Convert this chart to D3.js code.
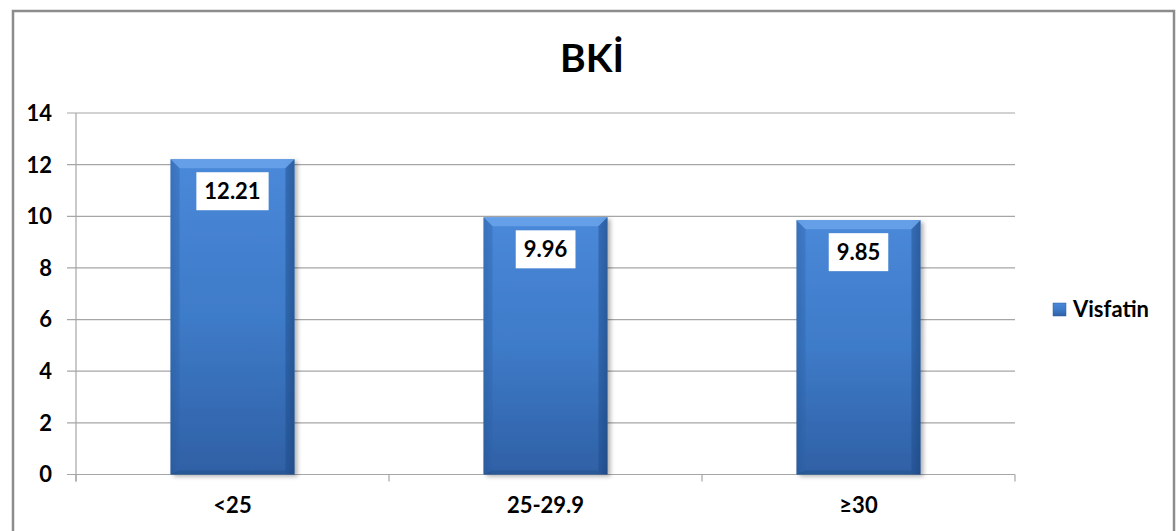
<!DOCTYPE html>
<html><head><meta charset="utf-8">
<script src="https://cdn.jsdelivr.net/npm/d3@7"></script>
<style>
body{margin:0;background:#fff;}
svg{display:block;}
</style></head>
<body>
<svg id="c" width="1176" height="531"></svg>
<script>
const categories = ["<25", "25-29.9", "≥30"];
const values = [12.21, 9.96, 9.85];
const valueLabels = ["12.21", "9.96", "9.85"];
const yTicks = [0, 2, 4, 6, 8, 10, 12, 14];
const seriesName = "Visfatin";
const title = "BKİ";

const svg = d3.select("#c");
const plot = {left: 76, right: 1015, top: 113, bottom: 474.5};
const font = "Lato, 'Open Sans', sans-serif";

// outer border
svg.append("rect").attr("x", 13).attr("y", 11).attr("width", 1161).attr("height", 530)
  .attr("fill", "#fff").attr("stroke", "#8c8c8c").attr("stroke-width", 2.5);

const defs = svg.append("defs");
const g1 = defs.append("linearGradient").attr("id", "barGrad").attr("x1", 0).attr("y1", 0).attr("x2", 0).attr("y2", 1);
g1.append("stop").attr("offset", "0%").attr("stop-color", "#4a88d9");
g1.append("stop").attr("offset", "50%").attr("stop-color", "#3e7bc8");
g1.append("stop").attr("offset", "100%").attr("stop-color", "#2f60a5");
const g2 = defs.append("linearGradient").attr("id", "sideGrad").attr("x1", 0).attr("y1", 0).attr("x2", 1).attr("y2", 0);
g2.append("stop").attr("offset", "0%").attr("stop-color", "#000").attr("stop-opacity", 0.12);
g2.append("stop").attr("offset", "8%").attr("stop-color", "#000").attr("stop-opacity", 0);
g2.append("stop").attr("offset", "92%").attr("stop-color", "#000").attr("stop-opacity", 0);
g2.append("stop").attr("offset", "100%").attr("stop-color", "#000").attr("stop-opacity", 0.22);
const f = defs.append("filter").attr("id", "shadow").attr("x", "-10%").attr("y", "-10%").attr("width", "130%").attr("height", "130%");
f.append("feDropShadow").attr("dx", 3).attr("dy", 2).attr("stdDeviation", 2).attr("flood-color", "#000").attr("flood-opacity", 0.3);

const x = d3.scaleBand().domain(categories).range([plot.left, plot.right])
  .paddingInner(0.604).paddingOuter(0.302);
const y = d3.scaleLinear().domain([0, 14]).range([plot.bottom, plot.top]);

// gridlines
svg.append("g").selectAll("line").data(yTicks).join("line")
  .attr("x1", plot.left - 9).attr("x2", plot.right)
  .attr("y1", d => y(d)).attr("y2", d => y(d))
  .attr("stroke", "#a6a6a6").attr("stroke-width", 1.2);

// y axis line
svg.append("line").attr("x1", plot.left).attr("x2", plot.left)
  .attr("y1", plot.top).attr("y2", plot.bottom + 7)
  .attr("stroke", "#a6a6a6").attr("stroke-width", 1.2);

// x tick marks at category boundaries
const bounds = [plot.left, ...categories.map(c => x(c) - x.step() * x.paddingInner() / 2 + x.step())];
svg.append("g").selectAll("line").data(bounds).join("line")
  .attr("x1", d => d).attr("x2", d => d)
  .attr("y1", plot.bottom).attr("y2", plot.bottom + 7)
  .attr("stroke", "#a6a6a6").attr("stroke-width", 1.2);

// y labels
svg.append("g").selectAll("text").data(yTicks).join("text")
  .attr("x", 52).attr("y", d => y(d)).attr("dy", "0.36em")
  .attr("text-anchor", "end").attr("font-family", font).attr("font-weight", "bold")
  .attr("font-size", 22).attr("fill", "#000").text(d => d);

// x labels
svg.append("g").selectAll("text").data(categories).join("text")
  .attr("x", d => x(d) + x.bandwidth() / 2).attr("y", 513)
  .attr("text-anchor", "middle").attr("font-family", font).attr("font-weight", "bold")
  .attr("font-size", 22).attr("fill", "#000").text(d => d);

// bars
const bars = svg.append("g").selectAll("g").data(categories).join("g");
bars.append("rect")
  .attr("x", d => x(d)).attr("y", (d, i) => y(values[i]))
  .attr("width", x.bandwidth()).attr("height", (d, i) => y(0) - y(values[i]))
  .attr("fill", "url(#barGrad)").attr("filter", "url(#shadow)");
bars.append("rect")
  .attr("x", d => x(d)).attr("y", (d, i) => y(values[i]))
  .attr("width", x.bandwidth()).attr("height", (d, i) => y(0) - y(values[i]))
  .attr("fill", "url(#sideGrad)");
const bev = 9;
bars.append("polygon").attr("points", (d, i) => {
  const x0 = x(d), x1 = x(d) + x.bandwidth(), t = y(values[i]);
  return `${x0},${t} ${x1},${t} ${x1 - bev},${t + bev} ${x0 + bev},${t + bev}`;
}).attr("fill", "#6aa3ea").attr("opacity", 0.85);
bars.append("polygon").attr("points", (d, i) => {
  const x0 = x(d), t = y(values[i]), b = y(0);
  return `${x0},${t} ${x0 + bev},${t + bev} ${x0 + bev},${b - 4} ${x0},${b}`;
}).attr("fill", "#2f66b3").attr("opacity", 0.35);
bars.append("polygon").attr("points", (d, i) => {
  const x1 = x(d) + x.bandwidth(), t = y(values[i]), b = y(0);
  return `${x1},${t} ${x1 - bev},${t + bev} ${x1 - bev},${b - 4} ${x1},${b}`;
}).attr("fill", "#1f4f92").attr("opacity", 0.45);
bars.append("polygon").attr("points", (d, i) => {
  const x0 = x(d), x1 = x(d) + x.bandwidth(), b = y(0);
  return `${x0},${b} ${x1},${b} ${x1 - bev},${b - 4} ${x0 + bev},${b - 4}`;
}).attr("fill", "#234f8a").attr("opacity", 0.5);

// data labels
const lbl = svg.append("g").selectAll("g").data(categories).join("g");
lbl.append("text")
  .attr("x", d => x(d) + x.bandwidth() / 2).attr("y", (d, i) => y(values[i]) + 32)
  .attr("dy", "0.36em").attr("text-anchor", "middle")
  .attr("font-family", font).attr("font-weight", "bold").attr("font-size", 22)
  .attr("fill", "#000").text((d, i) => valueLabels[i]);
lbl.each(function(d, i) {
  const t = d3.select(this).select("text");
  const bb = t.node().getBBox();
  d3.select(this).insert("rect", "text")
    .attr("x", bb.x - 8).attr("y", y(values[i]) + 13)
    .attr("width", bb.width + 16).attr("height", 38).attr("fill", "#fff");
});

// title
svg.append("text").attr("x", 592).attr("y", 72).attr("text-anchor", "middle")
  .attr("font-family", font).attr("font-weight", "bold").attr("font-size", 39)
  .attr("fill", "#000").text(title);

// legend
svg.append("rect").attr("x", 1053).attr("y", 303).attr("width", 13).attr("height", 13)
  .attr("fill", "url(#barGrad)").attr("stroke", "#2e5f9f").attr("stroke-width", 0.5);
svg.append("text").attr("x", 1073).attr("y", 317)
  .attr("font-family", font).attr("font-weight", "bold").attr("font-size", 22)
  .attr("fill", "#000").text(seriesName);
</script>
</body></html>
